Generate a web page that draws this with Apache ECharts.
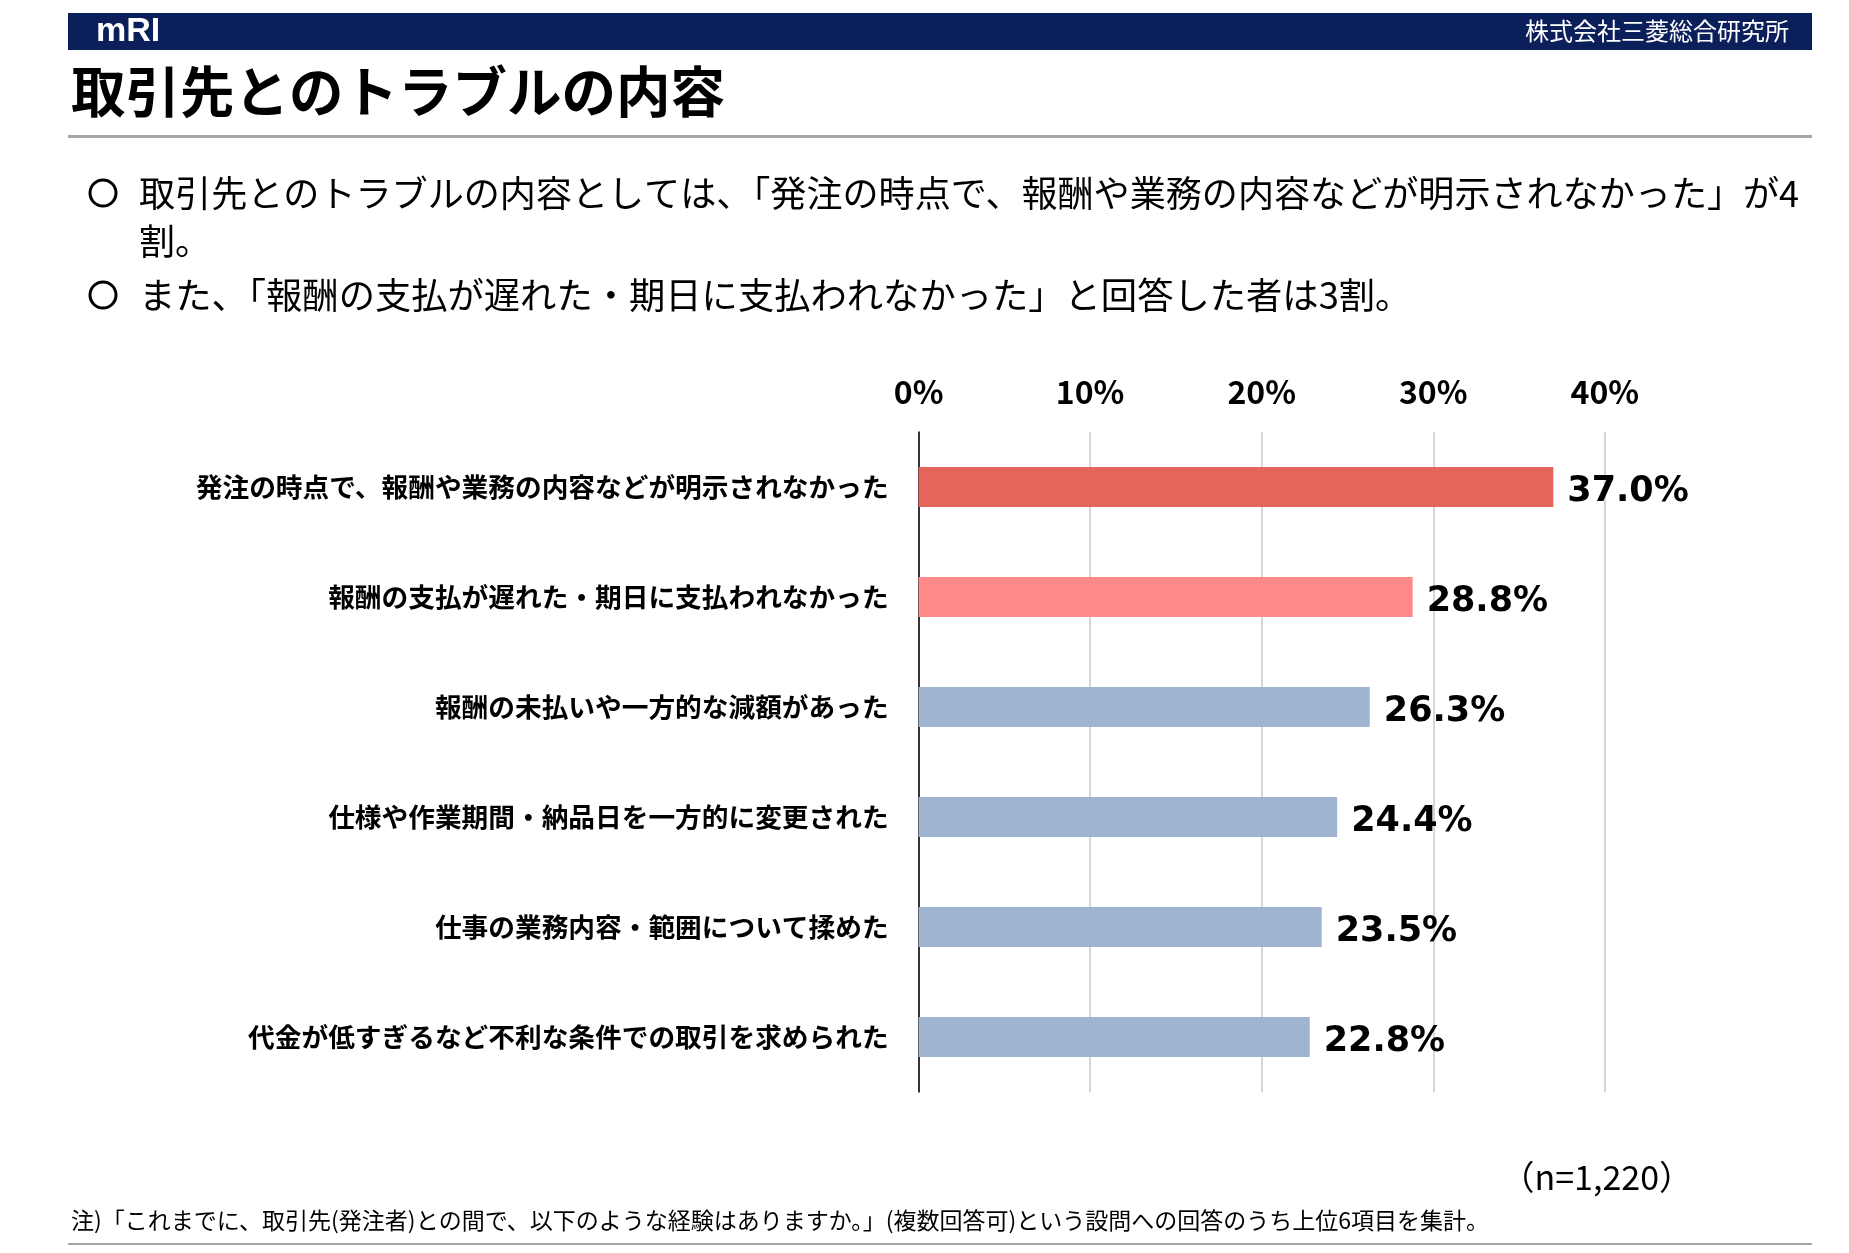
<!DOCTYPE html>
<html>
<head>
<meta charset="utf-8">
<script src="https://cdn.jsdelivr.net/npm/echarts@6/dist/echarts.min.js"></script>
<style>
html,body{margin:0;padding:0;background:#fff;}
#chart{width:1849px;height:1253px;}
</style>
</head>
<body>
<div id="chart"></div>
<script>
const categories = [
  '発注の時点で、報酬や業務の内容などが明示されなかった',
  '報酬の支払が遅れた・期日に支払われなかった',
  '報酬の未払いや一方的な減額があった',
  '仕様や作業期間・納品日を一方的に変更された',
  '仕事の業務内容・範囲について揉めた',
  '代金が低すぎるなど不利な条件での取引を求められた'
];
const values = [37.0, 28.8, 26.3, 24.4, 23.5, 22.8];
const tickValues = [0, 10, 20, 30, 40];
const barColors = ['#E5645B', '#FF8888', '#9EB4CF', '#9EB4CF', '#9EB4CF', '#9EB4CF'];

const titleText = '取引先とのトラブルの内容';
const companyText = '株式会社三菱総合研究所';
const bullet1a = '取引先とのトラブルの内容としては、「発注の時点で、報酬や業務の内容などが明示されなかった」が4';
const bullet1b = '割。';
const bullet2 = 'また、「報酬の支払が遅れた・期日に支払われなかった」と回答した者は3割。';
const sampleText = '（n=1,220）';
const noteText = '注)「これまでに、取引先(発注者)との間で、以下のような経験はありますか。」(複数回答可)という設問への回答のうち上位6項目を集計。';

const CJK = '"Noto Sans CJK JP", "Noto Sans", sans-serif';

const chart = echarts.init(document.getElementById('chart'), null, {renderer: 'canvas'});
chart.setOption({
  backgroundColor: '#ffffff',
  animation: false,
  grid: {left: 918.6, right: 244.2, top: 432, height: 660, containLabel: false},
  xAxis: {
    type: 'value', position: 'top', min: tickValues[0], max: tickValues[tickValues.length - 1], interval: 10,
    axisLine: {show: false}, axisTick: {show: false},
    splitLine: {show: true, lineStyle: {color: '#d6d6d6', width: 2}},
    axisLabel: {formatter: '{value}%', fontFamily: CJK, fontWeight: 'bold', fontSize: 32, color: '#000', margin: 24}
  },
  yAxis: {
    type: 'category', inverse: true, data: categories,
    axisLine: {show: true, lineStyle: {color: '#000', width: 1.5}},
    axisTick: {show: false},
    axisLabel: {fontFamily: CJK, fontWeight: 'bold', fontSize: 26.7, color: '#000', margin: 30}
  },
  series: [{
    type: 'bar', barWidth: 40,
    data: values.map((v, i) => ({value: v, itemStyle: {color: barColors[i]}})),
    label: {
      show: true, position: 'right', distance: 14, offset: [0, 5],
      formatter: p => p.value.toFixed(1) + '%',
      fontFamily: '"DejaVu Sans", sans-serif', fontWeight: 'bold', fontSize: 35, color: '#000'
    }
  }],
  graphic: [
    {type: 'rect', shape: {x: 68, y: 13, width: 1744, height: 37}, style: {fill: '#0B1F5B'}},
    {type: 'text', x: 96, y: 32, style: {text: 'mRI', fill: '#fff', font: 'bold 34px "Liberation Sans", sans-serif', textVerticalAlign: 'middle'}},
    {type: 'text', x: 1789, y: 31, style: {text: companyText, fill: '#fff', font: '24px ' + CJK, textAlign: 'right', textVerticalAlign: 'middle'}},
    {type: 'text', x: 71, y: 91, style: {text: titleText, fill: '#000', font: 'bold 54.5px ' + CJK, textVerticalAlign: 'middle'}},
    {type: 'rect', shape: {x: 68, y: 135, width: 1744, height: 3}, style: {fill: '#A6A6A6'}},
    {type: 'circle', shape: {cx: 103, cy: 193, r: 13}, style: {fill: 'none', stroke: '#000', lineWidth: 3}},
    {type: 'text', x: 139, y: 193, style: {text: bullet1a, fill: '#000', font: '36.1px ' + CJK, textVerticalAlign: 'middle'}},
    {type: 'text', x: 139, y: 241, style: {text: bullet1b, fill: '#000', font: '36.1px ' + CJK, textVerticalAlign: 'middle'}},
    {type: 'circle', shape: {cx: 103, cy: 295, r: 13}, style: {fill: 'none', stroke: '#000', lineWidth: 3}},
    {type: 'text', x: 139, y: 295, style: {text: bullet2, fill: '#000', font: '36.3px ' + CJK, textVerticalAlign: 'middle'}},
    {type: 'text', x: 1693, y: 1177, style: {text: sampleText, fill: '#000', font: '34px ' + CJK, textAlign: 'right', textVerticalAlign: 'middle'}},
    {type: 'text', x: 71, y: 1220, style: {text: noteText, fill: '#000', font: '23px ' + CJK, textVerticalAlign: 'middle'}},
    {type: 'rect', shape: {x: 68, y: 1243, width: 1744, height: 2}, style: {fill: '#A6A6A6'}}
  ]
});
</script>
</body>
</html>
